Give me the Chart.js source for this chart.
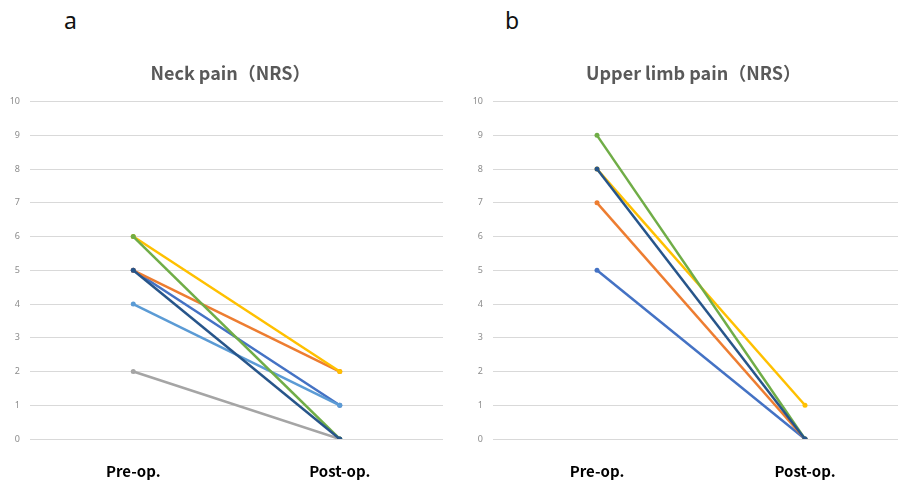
<!DOCTYPE html>
<html>
<head>
<meta charset="utf-8">
<script src="https://cdn.jsdelivr.net/npm/chart.js@4/dist/chart.umd.min.js"></script>
<style>
  html, body { margin: 0; padding: 0; background: #fff; overflow: hidden; width: 898px; height: 480px; }
  .panel { position: absolute; top: 0; }
  .tag { position: absolute; top: 4px; font-family: "Noto Sans", sans-serif; font-size: 23px; color: #111; }
</style>
</head>
<body>
<div class="tag" style="left:64px;">a</div>
<div class="tag" style="left:505px;">b</div>
<canvas id="neckChart" class="panel" style="left:0px;" width="450" height="480"></canvas>
<canvas id="limbChart" class="panel" style="left:460px;" width="460" height="480"></canvas>
<script>
// categories and values
const categories = ['Pre-op.', 'Post-op.'];
const yTicks = [0, 1, 2, 3, 4, 5, 6, 7, 8, 9, 10];

const neckPre  = [5, 5, 2, 6, 4, 6, 5];
const neckPost = [1, 2, 0, 2, 1, 0, 0];
const neckColors = ['#4472C4', '#ED7D31', '#A5A5A5', '#FFC000', '#5B9BD5', '#70AD47', '#27558A'];

const limbPre  = [5, 7, 8, 9, 8];
const limbPost = [0, 0, 1, 0, 0];
const limbColors = ['#4472C4', '#ED7D31', '#FFC000', '#70AD47', '#27558A'];

// nudge the title box a bit to the right, like the original
const titleShift = {
    id: 'titleShift',
    afterLayout(chart) {
        if (chart.titleBlock) chart.titleBlock.left += 18;
    }
};

function makeDatasets(pre, post, colors) {
    return pre.map((v, i) => ({
        label: 'Patient ' + (i + 1),
        data: [v, post[i]],
        borderColor: colors[i],
        backgroundColor: colors[i],
        borderWidth: 2.5,
        pointRadius: 2.5,
        pointHoverRadius: 2.5,
        pointBorderWidth: 0,
        order: pre.length - i
    }));
}

function makeChart(canvasId, title, datasets, yWidth, padRight) {
    const ctx = document.getElementById(canvasId).getContext('2d');
    return new Chart(ctx, {
        type: 'line',
        data: { labels: categories, datasets: datasets },
        plugins: [titleShift],
        options: {
            responsive: false,
            animation: false,
            layout: { padding: { left: 0, right: padRight, top: 0, bottom: 0 } },
            plugins: {
                legend: { display: false },
                tooltip: { enabled: false },
                title: {
                    display: true,
                    text: title,
                    color: '#595959',
                    font: { family: '"Noto Sans CJK SC", "Noto Sans", sans-serif', size: 18, weight: 'bold' },
                    padding: { top: 62, bottom: 18 }
                }
            },
            scales: {
                x: {
                    offset: true,
                    grid: { display: false, drawTicks: false },
                    border: { display: false },
                    afterFit: axis => { axis.height = 41; },
                    ticks: {
                        color: '#000',
                        padding: 23,
                        font: { family: '"Noto Sans CJK SC", "Noto Sans", sans-serif', size: 15, weight: 'bold' }
                    }
                },
                y: {
                    min: 0,
                    max: 10,
                    afterBuildTicks: axis => { axis.ticks = yTicks.map(v => ({ value: v })); },
                    afterFit: axis => { axis.width = yWidth; },
                    grid: { color: '#d9d9d9', lineWidth: 1, drawTicks: false },
                    border: { display: false },
                    ticks: {
                        color: '#8c8c8c',
                        padding: 10,
                        font: { family: '"Noto Sans", sans-serif', size: 9 }
                    }
                }
            }
        }
    });
}

makeChart('neckChart', 'Neck pain（NRS）', makeDatasets(neckPre, neckPost, neckColors), 30, 7);
makeChart('limbChart', 'Upper limb pain（NRS）', makeDatasets(limbPre, limbPost, limbColors), 33, 11);
</script>
</body>
</html>
